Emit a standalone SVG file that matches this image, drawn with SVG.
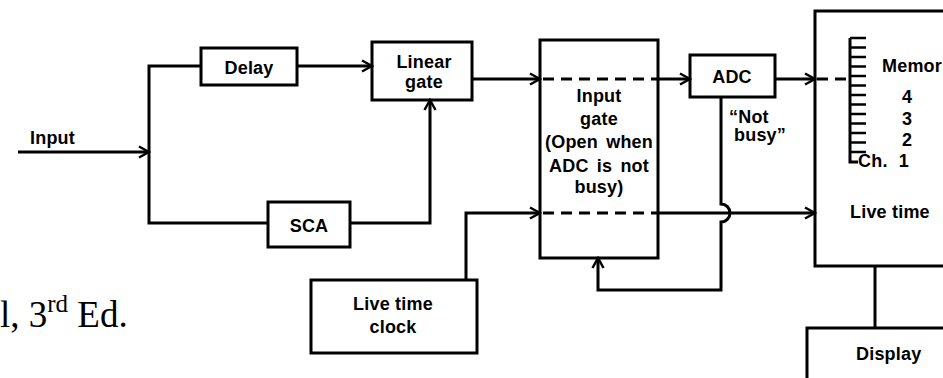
<svg xmlns="http://www.w3.org/2000/svg" width="943" height="378" viewBox="0 0 943 378">
<defs>
<style>
.box{fill:#fff;stroke:#000;stroke-width:3}
.open{fill:none;stroke:#000;stroke-width:3}
.ln{fill:none;stroke:#000;stroke-width:3}
.dash{fill:none;stroke:#000;stroke-width:3;stroke-dasharray:11,7}
.tk{fill:none;stroke:#000;stroke-width:2.5}
.t{font-family:"Liberation Sans",Arial,sans-serif;font-weight:bold;font-size:18px;letter-spacing:0.2px;fill:#000}
.c{text-anchor:middle}
.serif{font-family:"Liberation Serif","Times New Roman",serif;fill:#000}
</style>
<marker id="ah" markerUnits="userSpaceOnUse" markerWidth="14" markerHeight="14" viewBox="0 0 14 14" refX="12" refY="7" orient="auto">
<path d="M2,1.5 L12,7 L2,12.5" fill="none" stroke="#000" stroke-width="2.5"/>
</marker>
</defs>
<rect width="943" height="378" fill="#fff"/>
<g id="delay"><rect class="box" x="201" y="48" width="96" height="37"/><text class="t c" x="249" y="74">Delay</text></g>
<g id="sca"><rect class="box" x="268" y="202" width="82" height="45"/><text class="t c" x="309" y="232">SCA</text></g>
<g id="linear-gate"><rect class="box" x="372" y="42" width="100" height="58"/><text class="t c" x="424" y="68">Linear</text><text class="t c" x="424" y="88">gate</text></g>
<g id="input-gate"><rect class="open" x="540" y="40" width="118" height="218"/>
<text class="t c" x="599" y="102">Input</text>
<text class="t c" x="599" y="125">gate</text>
<text class="t c" x="599" y="148" style="word-spacing:3px">(Open when</text>
<text class="t c" x="599" y="172" style="word-spacing:3px">ADC is not</text>
<text class="t c" x="599" y="193">busy)</text>
</g>
<g id="adc"><rect class="box" x="690" y="55" width="85" height="42"/><text class="t c" x="732" y="83">ADC</text></g>
<g id="not-busy"><text class="t" x="729" y="123">“Not</text><text class="t" x="734" y="141">busy”</text></g>
<g id="live-time-clock"><rect class="box" x="311" y="280" width="166" height="73"/><text class="t c" x="393" y="310">Live time</text><text class="t c" x="393" y="333">clock</text></g>
<g id="memory"><rect class="open" x="815" y="11" width="140" height="255"/>
<path class="ln" d="M850,38 V162 H858"/>
<path class="tk" d="M850,38 H866 M850,47.5 H866 M850,57 H866 M850,66.5 H866 M850,76 H866 M850,85.5 H866 M850,95 H866 M850,104.5 H866 M850,114 H866 M850,123.5 H866 M850,133 H866 M850,142.5 H866 M850,152 H866"/>
<text class="t" x="882" y="72">Memor</text>
<text class="t c" x="907" y="103">4</text>
<text class="t c" x="907" y="125">3</text>
<text class="t c" x="907" y="146">2</text>
<text class="t" x="858" y="167" style="word-spacing:6px">Ch. 1</text>
<text class="t" x="850" y="218">Live time</text>
</g>
<g id="display"><rect class="box" x="807" y="328" width="150" height="60"/><text class="t" x="856" y="360">Display</text></g>
<g id="input-label"><text class="t" x="30" y="144">Input</text></g>
<g id="connectors">
<path class="ln" d="M18,152 H149" marker-end="url(#ah)"/>
<path class="ln" d="M201,66 H149 V223 H268"/>
<path class="ln" d="M297,66 H372" marker-end="url(#ah)"/>
<path class="ln" d="M350,223 H430 V100" marker-end="url(#ah)"/>
<path class="ln" d="M472,79 H540" marker-end="url(#ah)"/>
<path class="dash" d="M543,79 H658"/>
<path class="ln" d="M658,79 H690" marker-end="url(#ah)"/>
<path class="ln" d="M775,79 H815" marker-end="url(#ah)"/>
<path class="dash" d="M817,79 H850"/>
<path class="ln" d="M466,280 V213 H540" marker-end="url(#ah)"/>
<path class="dash" d="M543,213 H658"/>
<path class="ln" d="M658,213 H815" marker-end="url(#ah)"/>
<path class="ln" d="M721,97 V204 A9,9 0 0 1 721,222 V290 H598 V258" marker-end="url(#ah)"/>
<path class="ln" d="M875,266 V328"/>
</g>
<g id="caption"><text class="serif" x="0" y="327" font-size="37">l, 3<tspan font-size="25" dy="-15">rd</tspan><tspan dy="15"> Ed.</tspan></text></g>
</svg>
